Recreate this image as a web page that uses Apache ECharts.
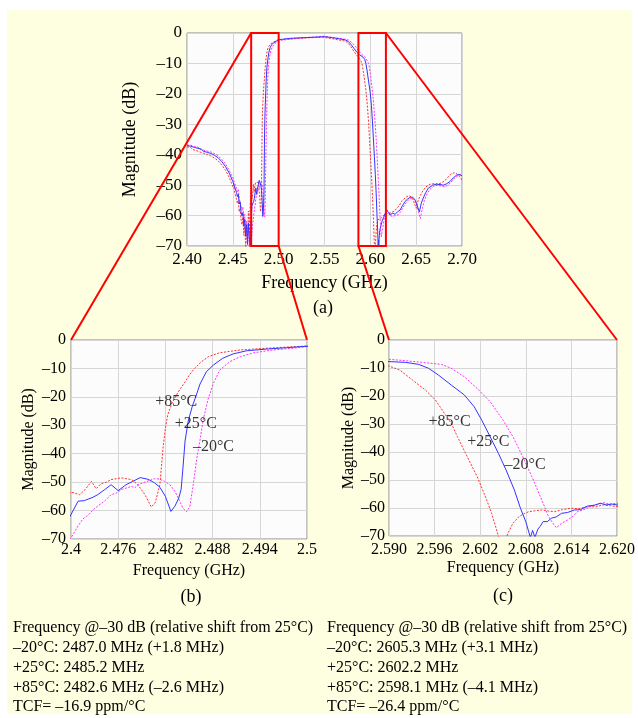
<!DOCTYPE html>
<html>
<head>
<meta charset="utf-8">
<title>Filter response vs temperature</title>
<script src="https://cdn.jsdelivr.net/npm/echarts/dist/echarts.min.js"></script>
<style>
  html, body { margin: 0; padding: 0; background: #fff; }
  #panel { position: absolute; left: 7px; top: 10px; width: 625px; height: 704px; background: #fefee1; }
  #chart { position: absolute; left: 0; top: 0; width: 638px; height: 718px; }
</style>
</head>
<body>
<div id="panel"></div>
<div id="chart"></div>
<script>
// measured S21 (dB) vs frequency (GHz), one array per temperature
const t25 = [
  [2.400, -37.0], [2.402, -37.5], [2.404, -37.2], [2.406, -37.8], [2.408, -37.6], [2.410, -38.1], [2.412, -37.9],
  [2.414, -38.5], [2.416, -38.2], [2.418, -38.9], [2.420, -38.7], [2.422, -39.2], [2.424, -39.0], [2.426, -39.6],
  [2.428, -39.4], [2.430, -40.2], [2.432, -40.0], [2.434, -41.0], [2.436, -41.4], [2.438, -42.3], [2.440, -42.6],
  [2.442, -43.9], [2.444, -44.2], [2.446, -46.0], [2.448, -46.4], [2.450, -48.8], [2.451, -48.2], [2.452, -50.6],
  [2.453, -50.1], [2.454, -52.4], [2.455, -53.8], [2.456, -53.0], [2.457, -56.2], [2.458, -55.5], [2.459, -58.9],
  [2.460, -60.1], [2.461, -59.0], [2.462, -63.5], [2.463, -61.2], [2.464, -66.8], [2.465, -63.0], [2.466, -69.5],
  [2.467, -62.5], [2.468, -67.0], [2.469, -70.5], [2.4695, -64.0], [2.470, -61.4],
  [2.4709, -56.7], [2.4717, -56.5], [2.4728, -55.3], [2.4734, -54.4], [2.4743, -52.6], [2.4751, -50.9], [2.4760, -53.0],
  [2.4770, -50.9], [2.4778, -49.8], [2.4788, -48.4], [2.4798, -49.0], [2.4806, -50.2], [2.4813, -51.8], [2.4820, -55.0],
  [2.4827, -60.3], [2.4832, -58.5], [2.4837, -55.6], [2.4840, -52.5], [2.4842, -46.0], [2.4845, -35.5], [2.4849, -28.5],
  [2.4854, -23.5], [2.4860, -18.8], [2.4864, -15.5], [2.4872, -11.2], [2.4881, -8.8], [2.4893, -6.4], [2.4906, -4.9],
  [2.4923, -3.8], [2.4948, -3.2], [2.4974, -2.7], [2.500, -2.2],
  [2.503, -2.1], [2.508, -1.9], [2.515, -1.7], [2.522, -1.6], [2.530, -1.5], [2.538, -1.4], [2.545, -1.3], [2.550, -1.2],
  [2.555, -1.4], [2.560, -1.6], [2.566, -1.9], [2.572, -2.2], [2.576, -2.8], [2.579, -3.8], [2.582, -5.0], [2.585, -6.2],
  [2.588, -7.1], [2.590, -7.7],
  [2.5922, -8.0], [2.5939, -8.7], [2.5952, -10.1], [2.5965, -12.5], [2.5982, -16.1], [2.5999, -19.6], [2.6012, -23.8],
  [2.6022, -28.6], [2.6033, -34.5], [2.6044, -40.5], [2.6054, -46.4], [2.6065, -53.6], [2.6073, -60.1], [2.6080, -64.9],
  [2.6086, -70.5], [2.6089, -68.0], [2.6092, -70.5], [2.6096, -67.5], [2.6099, -66.5], [2.6103, -64.8], [2.6108, -64.9],
  [2.6114, -63.6], [2.6120, -63.2], [2.6127, -61.9], [2.6135, -61.6], [2.6144, -60.7], [2.6152, -60.6], [2.6161, -59.3],
  [2.6170, -59.0], [2.6178, -58.3], [2.6186, -58.9], [2.6193, -58.6], [2.620, -58.9],
  [2.6215, -59.8], [2.6245, -59.2], [2.6270, -59.6], [2.6295, -58.8], [2.6324, -58.2], [2.6350, -56.8], [2.6378, -55.4],
  [2.6405, -54.6], [2.6433, -54.0], [2.6460, -53.9], [2.6487, -54.8], [2.6512, -56.8], [2.6535, -58.8], [2.6555, -56.0],
  [2.6578, -54.2], [2.6605, -52.4], [2.6633, -51.0], [2.6680, -50.0], [2.6724, -49.7], [2.6760, -49.8], [2.6796, -50.0],
  [2.6830, -49.6], [2.6869, -48.8], [2.6905, -47.6], [2.6942, -46.7], [2.6970, -46.5], [2.700, -46.9]
]

const t85 = [
  [2.400, -37.4], [2.402, -37.9], [2.404, -37.6], [2.406, -38.3], [2.408, -38.0], [2.410, -38.6], [2.412, -38.4],
  [2.414, -39.1], [2.416, -38.8], [2.418, -39.5], [2.420, -39.3], [2.422, -39.9], [2.424, -39.7], [2.426, -40.4],
  [2.428, -40.3], [2.430, -41.1], [2.432, -41.0], [2.434, -42.0], [2.436, -42.5], [2.438, -43.4], [2.440, -43.8],
  [2.442, -45.1], [2.444, -45.6], [2.446, -47.4], [2.448, -48.0], [2.450, -50.5], [2.451, -49.8], [2.452, -52.4],
  [2.453, -51.8], [2.454, -54.6], [2.455, -56.0], [2.456, -55.0], [2.457, -58.8], [2.458, -57.6], [2.459, -61.5],
  [2.460, -63.0], [2.461, -60.5], [2.462, -66.5], [2.463, -63.0], [2.464, -70.5], [2.465, -64.5], [2.466, -68.0],
  [2.467, -58.5], [2.468, -66.0], [2.469, -56.0], [2.4695, -55.0], [2.470, -53.5],
  [2.4705, -53.9], [2.4711, -54.4], [2.4718, -52.6], [2.4726, -49.7], [2.4732, -52.3], [2.4738, -50.6], [2.4745, -50.0],
  [2.4751, -49.1], [2.4764, -48.5], [2.4777, -49.1], [2.4785, -50.9], [2.4794, -54.4], [2.4802, -58.7], [2.4807, -57.3],
  [2.4813, -50.9], [2.4817, -38.0], [2.4820, -31.0], [2.4823, -26.3], [2.4828, -22.5], [2.4832, -20.4], [2.4838, -17.5],
  [2.4844, -15.2], [2.4850, -12.5], [2.4857, -10.0], [2.4865, -7.8], [2.4875, -5.8], [2.4889, -4.5], [2.4915, -3.5],
  [2.4948, -2.9], [2.4975, -2.5], [2.500, -2.1],
  [2.503, -2.2], [2.510, -2.0], [2.520, -1.8], [2.530, -1.6], [2.540, -1.5], [2.548, -1.4], [2.555, -1.7], [2.562, -2.1],
  [2.568, -2.4], [2.573, -2.7], [2.576, -3.4], [2.579, -4.6], [2.582, -6.0], [2.585, -7.2], [2.588, -8.3], [2.590, -9.3],
  [2.5914, -10.7], [2.5931, -14.3], [2.5948, -17.9], [2.5961, -21.4], [2.5973, -26.2], [2.5982, -29.8], [2.5990, -34.5],
  [2.6003, -41.7], [2.6016, -48.8], [2.6027, -56.0], [2.6035, -61.9], [2.6044, -70.0], [2.6050, -76.0], [2.6056, -69.3],
  [2.6063, -65.5], [2.6071, -63.1], [2.6078, -62.0], [2.6084, -61.3], [2.6092, -61.0], [2.6101, -60.7], [2.6110, -61.1],
  [2.6118, -61.3], [2.6128, -60.6], [2.6139, -60.1], [2.6150, -60.2], [2.6161, -59.5], [2.6172, -59.6], [2.6182, -58.9],
  [2.6191, -59.2], [2.620, -59.5],
  [2.6215, -59.2], [2.6240, -58.8], [2.6262, -58.6], [2.6290, -57.5], [2.6315, -56.8], [2.6340, -55.3], [2.6365, -54.6],
  [2.6395, -53.8], [2.6425, -53.5], [2.6450, -53.9], [2.6475, -55.5], [2.6500, -57.6], [2.6520, -55.2], [2.6545, -53.4],
  [2.6575, -51.8], [2.6605, -50.6], [2.6650, -49.7], [2.6700, -49.5], [2.6740, -49.6], [2.6775, -49.3], [2.6810, -48.6],
  [2.6845, -47.4], [2.6880, -46.4], [2.6915, -45.9], [2.6945, -46.3], [2.6975, -47.2], [2.700, -48.3]
]

const tm20 = [
  [2.400, -36.8], [2.402, -37.2], [2.404, -36.9], [2.406, -37.5], [2.408, -37.3], [2.410, -37.8], [2.412, -37.5],
  [2.414, -38.2], [2.416, -37.9], [2.418, -38.5], [2.420, -38.3], [2.422, -38.8], [2.424, -38.5], [2.426, -39.1],
  [2.428, -38.9], [2.430, -39.6], [2.432, -39.4], [2.434, -40.3], [2.436, -40.6], [2.438, -41.6], [2.440, -41.9],
  [2.442, -43.0], [2.444, -43.5], [2.446, -45.1], [2.448, -45.5], [2.450, -47.6], [2.451, -47.2], [2.452, -49.4],
  [2.453, -48.8], [2.454, -51.0], [2.455, -52.2], [2.456, -51.5], [2.457, -54.4], [2.458, -53.8], [2.459, -57.0],
  [2.460, -58.2], [2.461, -57.2], [2.462, -61.5], [2.463, -59.6], [2.464, -64.8], [2.465, -61.8], [2.466, -67.5],
  [2.467, -63.5], [2.468, -70.5], [2.469, -66.0], [2.4695, -71.0], [2.470, -69.6],
  [2.4709, -65.4], [2.4715, -63.0], [2.4722, -61.5], [2.4728, -59.8], [2.4734, -58.4], [2.4743, -56.6], [2.4751, -54.4],
  [2.4758, -53.8], [2.4764, -52.6], [2.4777, -51.5], [2.4781, -52.0], [2.4786, -50.8], [2.4791, -50.3], [2.4806, -48.8],
  [2.4812, -48.9], [2.4819, -49.7], [2.4826, -51.0], [2.4832, -53.2], [2.4838, -56.5], [2.4842, -59.1], [2.4847, -60.4],
  [2.4851, -58.6], [2.4855, -51.6], [2.4858, -45.5], [2.4860, -41.5], [2.4864, -35.2], [2.4868, -28.1], [2.4874, -21.1],
  [2.4881, -15.2], [2.4889, -10.6], [2.4902, -7.6], [2.4915, -5.9], [2.4932, -4.5], [2.4957, -3.5], [2.4982, -2.9],
  [2.500, -2.3],
  [2.503, -2.4], [2.510, -2.1], [2.520, -1.8], [2.530, -1.5], [2.540, -1.3], [2.548, -1.1], [2.555, -1.3], [2.562, -1.6],
  [2.570, -1.9], [2.576, -2.3], [2.580, -3.2], [2.584, -4.5], [2.587, -5.8], [2.590, -6.9],
  [2.5922, -7.4], [2.5948, -8.1], [2.5969, -8.7], [2.5982, -10.1], [2.5999, -13.1], [2.6016, -17.3], [2.6033, -22.0],
  [2.6050, -28.6], [2.6063, -34.5], [2.6076, -41.7], [2.6088, -48.8], [2.6101, -57.1], [2.6110, -63.1], [2.6117, -66.0],
  [2.6120, -67.0], [2.6124, -66.2], [2.6127, -65.5], [2.6135, -64.3], [2.6142, -63.0], [2.6148, -61.3], [2.6156, -60.6],
  [2.6165, -59.5], [2.6174, -58.9], [2.6182, -58.1], [2.6190, -58.6], [2.620, -58.3],
  [2.6215, -60.0], [2.6245, -60.3], [2.6270, -60.0], [2.6300, -59.8], [2.6330, -58.8], [2.6355, -57.4], [2.6385, -56.0],
  [2.6410, -55.0], [2.6440, -54.4], [2.6470, -54.5], [2.6495, -55.4], [2.6520, -58.0], [2.6545, -61.0], [2.6565, -58.0],
  [2.6590, -55.0], [2.6620, -52.8], [2.6650, -51.4], [2.6690, -50.4], [2.6735, -50.0], [2.6775, -50.3], [2.6810, -50.6],
  [2.6845, -50.0], [2.6880, -49.0], [2.6915, -47.8], [2.6955, -46.9], [2.6985, -46.6], [2.700, -46.8]
]

// axis ranges and tick labels
const rangeA = [2.40, 2.70]
const rangeB = [2.47, 2.50]
const rangeC = [2.59, 2.62]
const zoomBoxes = [[2.47, 2.50], [2.587, 2.617]]
const xTicksA = ['2.40', '2.45', '2.50', '2.55', '2.60', '2.65', '2.70']
const xTicksB = ['2.4', '2.476', '2.482', '2.488', '2.494', '2.5']
const xTicksC = ['2.590', '2.596', '2.602', '2.608', '2.614', '2.620']
const yTicks = ['–70', '–60', '–50', '–40', '–30', '–20', '–10', '0']

// temperature labels anchored at [GHz, dB]
const tempLabelsB = [[2.4807, -21.8, '+85°C'], [2.4832, -29.5, '+25°C'], [2.4855, -37.5, '–20°C']]
const tempLabelsC = [[2.5952, -29.2, '+85°C'], [2.6003, -36.3, '+25°C'], [2.6052, -44.6, '–20°C']]

const notesLeft = [
  'Frequency @–30 dB (relative shift from 25°C)',
  '–20°C: 2487.0 MHz (+1.8 MHz)',
  '+25°C: 2485.2 MHz',
  '+85°C: 2482.6 MHz (–2.6 MHz)',
  'TCF= –16.9 ppm/°C'
]
const notesRight = [
  'Frequency @–30 dB (relative shift from 25°C)',
  '–20°C: 2605.3 MHz (+3.1 MHz)',
  '+25°C: 2602.2 MHz',
  '+85°C: 2598.1 MHz (–4.1 MHz)',
  'TCF= –26.4 ppm/°C'
]

const FONT = '"Liberation Serif", "Times New Roman", serif'
const BLUE = '#3434ff'
const RED = '#ff3030'
const MAGENTA = '#ff30ff'

function xAxisFor (grid, range, interval, labels, size, nameSize, nameGap, margin) {
  return {
    type: 'value',
    gridIndex: grid,
    min: range[0],
    max: range[1],
    interval: interval,
    name: 'Frequency (GHz)',
    nameLocation: 'middle',
    nameGap: nameGap,
    nameTextStyle: { fontFamily: FONT, fontSize: nameSize, color: '#000' },
    axisLine: { show: false },
    axisTick: { show: false },
    axisLabel: {
      fontFamily: FONT,
      fontSize: size,
      color: '#000',
      margin: margin,
      showMinLabel: true,
      showMaxLabel: true,
      formatter: (v, i) => labels[i]
    },
    splitLine: { show: true, lineStyle: { color: '#d6d6d6', width: 1 } }
  }
}

function yAxisFor (grid, size, nameSize, nameGap, margin) {
  return {
    type: 'value',
    gridIndex: grid,
    min: -70,
    max: 0,
    interval: 10,
    name: 'Magnitude (dB)',
    nameLocation: 'middle',
    nameGap: nameGap,
    nameTextStyle: { fontFamily: FONT, fontSize: nameSize, color: '#000' },
    axisLine: { show: false },
    axisTick: { show: false },
    axisLabel: {
      fontFamily: FONT,
      fontSize: size,
      color: '#000',
      margin: margin,
      showMinLabel: true,
      showMaxLabel: true,
      formatter: (v, i) => yTicks[i]
    },
    splitLine: { show: true, lineStyle: { color: '#d6d6d6', width: 1 } }
  }
}

function curves (grid) {
  const mk = (name, data, color, type) => ({
    name: name,
    type: 'line',
    xAxisIndex: grid,
    yAxisIndex: grid,
    data: data,
    symbol: 'none',
    clip: true,
    lineStyle: { color: color, width: 1, type: type },
    z: 3
  })
  return [
    mk('+85°C', t85, RED, [2, 1.5]),
    mk('–20°C', tm20, MAGENTA, [2, 1.5]),
    mk('+25°C', t25, BLUE, 'solid')
  ]
}

function tempText (grid, labels) {
  return {
    type: 'scatter',
    xAxisIndex: grid,
    yAxisIndex: grid,
    data: labels,
    symbolSize: 0,
    silent: true,
    z: 5,
    label: {
      show: true,
      position: 'right',
      distance: 0,
      fontFamily: FONT,
      fontSize: 16,
      color: '#000',
      formatter: p => p.data[2]
    }
  }
}

const chart = echarts.init(document.getElementById('chart'), null, { renderer: 'canvas' })

const gridStyle = { show: true, backgroundColor: '#fcfcfc', borderColor: '#8a8a8a', borderWidth: 1 }

chart.setOption({
  animation: false,
  backgroundColor: 'transparent',
  grid: [
    Object.assign({ left: 187, top: 33, width: 275, height: 213 }, gridStyle),
    Object.assign({ left: 71, top: 340, width: 236, height: 199 }, gridStyle),
    Object.assign({ left: 389, top: 340, width: 235, height: 196 }, gridStyle)
  ],
  xAxis: [
    xAxisFor(0, rangeA, 0.05, xTicksA, 17, 18, 28, 5),
    xAxisFor(1, rangeB, 0.006, xTicksB, 16, 16, 24, 3),
    xAxisFor(2, rangeC, 0.006, xTicksC, 16, 16, 24, 6)
  ],
  yAxis: [
    yAxisFor(0, 17, 18, 48, 5),
    yAxisFor(1, 16, 16, 34, 5),
    yAxisFor(2, 16, 16, 29, 4)
  ],
  series: [].concat(
    curves(0), curves(1), curves(2),
    [tempText(1, tempLabelsB), tempText(2, tempLabelsC)]
  )
})

// zoom boxes and connector lines, placed through the axis scales
function px (grid, point) {
  return chart.convertToPixel({ gridIndex: grid }, point)
}

const graphics = []
zoomBoxes.forEach(b => {
  const p0 = px(0, [b[0], 0])
  const p1 = px(0, [b[1], -70])
  graphics.push({
    type: 'rect',
    z: 100,
    shape: { x: p0[0], y: p0[1], width: p1[0] - p0[0], height: p1[1] - p0[1] },
    style: { fill: 'none', stroke: '#ff0000', lineWidth: 2 }
  })
})

const links = [
  [px(0, [zoomBoxes[0][0], 0]), px(1, [rangeB[0], 0])],
  [px(0, [zoomBoxes[0][1], -70]), px(1, [rangeB[1], 0])],
  [px(0, [zoomBoxes[1][0], -70]), px(2, [rangeC[0], 0])],
  [px(0, [zoomBoxes[1][1], 0]), px(2, [rangeC[1], 0])]
]
links.forEach(l => {
  graphics.push({
    type: 'line',
    z: 100,
    shape: { x1: l[0][0], y1: l[0][1], x2: l[1][0], y2: l[1][1] },
    style: { stroke: '#ff0000', lineWidth: 2 }
  })
})

const captions = [['(a)', 323, 308], ['(b)', 191, 597], ['(c)', 503, 596]]
captions.forEach(c => {
  graphics.push({
    type: 'text',
    x: c[1],
    y: c[2],
    style: { text: c[0], font: '18px ' + FONT, fill: '#000', align: 'center', verticalAlign: 'middle' }
  })
})

notesLeft.forEach((t, i) => {
  graphics.push({
    type: 'text',
    x: 13,
    y: 628 + i * 19.8,
    style: { text: t, font: '16px ' + FONT, fill: '#000', align: 'left', verticalAlign: 'middle' }
  })
})
notesRight.forEach((t, i) => {
  graphics.push({
    type: 'text',
    x: 327,
    y: 628 + i * 19.8,
    style: { text: t, font: '16px ' + FONT, fill: '#000', align: 'left', verticalAlign: 'middle' }
  })
})

chart.setOption({ graphic: graphics })
</script>
</body>
</html>
